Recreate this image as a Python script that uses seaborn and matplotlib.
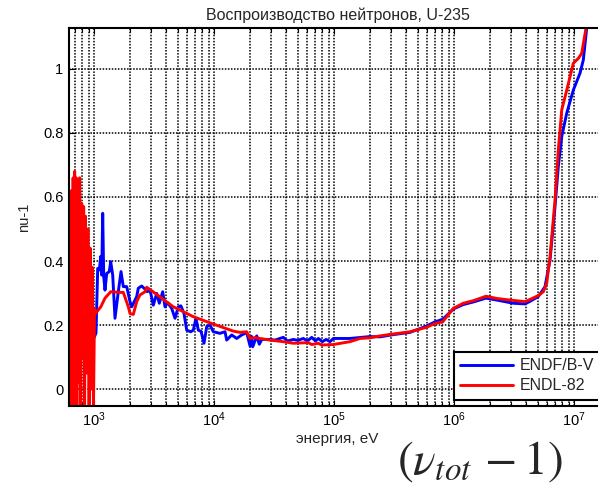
import numpy as np
import pandas as pd
import matplotlib
matplotlib.use("Agg")
import matplotlib.pyplot as plt
import matplotlib.ticker as mticker
import seaborn as sns

# ---------------- data ----------------
endf_energy = [1000, 1039, 1074, 1107, 1137, 1159, 1182, 1205, 1235, 1276, 1341, 1378,
               1432, 1496, 1594, 1679, 1754, 1873, 1995, 2062, 2196, 2269, 2340, 2497,
               2713, 2782, 2929, 3120, 3331, 3502, 3736, 3905, 4100, 4441, 4732, 5041,
               5300, 5623, 5923, 6394, 6723, 7079, 7398, 7800, 8254, 8696, 9261, 9867,
               11220, 12350, 12760, 14050, 15460, 17010, 18730, 19950, 20500, 21020,
               22690, 23850, 25000, 29290, 32240, 37790, 41000, 45800, 50000, 55490,
               60000, 65200, 70000, 73980, 80000, 86000, 92610, 98670, 135900, 199500,
               241700, 312100, 429900, 592300, 694600, 805100, 869600, 986700, 1.195e6,
               1.448e6, 1.848e6, 2.269e6, 2.929e6, 3.12e6, 3.905e6, 4.298e6, 5.041e6,
               5.733e6, 6.31e6, 6.946e6, 7.398e6, 7.9e6, 8.696e6, 9.867e6, 1.122e7,
               1.195e7, 1.276e7, 1.35e7]
endf_nu1 = [0.16, 0.175, 0.377, 0.372, 0.414, 0.356, 0.549, 0.351, 0.309, 0.361, 0.367, 0.398,
            0.356, 0.221, 0.304, 0.367, 0.32, 0.32, 0.273, 0.257, 0.278, 0.289, 0.315, 0.322,
            0.309, 0.304, 0.31, 0.262, 0.299, 0.268, 0.304, 0.257, 0.27, 0.252, 0.221, 0.257,
            0.26, 0.236, 0.184, 0.179, 0.184, 0.221, 0.184, 0.18, 0.143, 0.195, 0.2, 0.179,
            0.174, 0.179, 0.153, 0.169, 0.158, 0.169, 0.176, 0.135, 0.165, 0.132,
            0.166, 0.14, 0.155, 0.155, 0.153, 0.1615, 0.15, 0.155, 0.152, 0.158,
            0.15, 0.1615, 0.15, 0.158, 0.148, 0.155, 0.148, 0.158, 0.158, 0.164,
            0.163, 0.170, 0.177, 0.197, 0.21, 0.218, 0.23, 0.25, 0.264,
            0.272, 0.284, 0.278, 0.27, 0.268, 0.266, 0.274, 0.289,
            0.32, 0.403, 0.57, 0.695, 0.789, 0.862, 0.934, 0.987,
            1.028, 1.128, 1.22]

endl_energy = [630, 640, 650, 660, 670, 680, 690, 700, 710, 720, 730, 745, 760, 775, 790,
               805, 820, 835, 850, 870, 890, 910, 930, 950, 970, 990, 1010, 1030, 1140,
               1235, 1378, 1650, 1754, 1932, 1995, 2126, 2269, 2417, 2661, 2750, 3026,
               4580, 6723, 9867, 14480, 16470, 18730, 19950, 21970, 24170, 29290, 37790,
               45800, 61070, 65200, 73980, 79000, 98670, 135900, 164700, 199500, 241700,
               312100, 429900, 592300, 694600, 805100, 869600, 986700, 1.195e6, 1.448e6,
               1.848e6, 2.269e6, 2.929e6, 3.905e6, 4.298e6, 5.041e6, 5.549e6, 5.923e6,
               6.107e6, 6.31e6, 6.946e6, 7.398e6, 7.9e6, 8.696e6, 9.867e6, 1.086e7,
               1.159e7, 1.259e7, 1.35e7]
endl_nu1 = [0.45, -0.06, 0.62, 0.10, 0.66, -0.06, 0.68, 0.05, 0.66, -0.06, 0.60, 0.02, 0.66,
            -0.06, 0.58, 0.10, 0.57, -0.06, 0.54, 0.05, 0.50, -0.06, 0.44, 0.0, 0.38, -0.06,
            0.25, 0.236, 0.257, 0.284, 0.304, 0.302, 0.302, 0.257, 0.236, 0.233, 0.273,
            0.294, 0.304, 0.318, 0.307, 0.257, 0.226, 0.203, 0.181, 0.177, 0.179, 0.158,
            0.161, 0.158, 0.153, 0.148, 0.143, 0.145, 0.139, 0.143, 0.1375, 0.139, 0.148,
            0.158, 0.16, 0.166, 0.172, 0.179, 0.193, 0.205, 0.210, 0.226, 0.252, 0.268,
            0.276, 0.29, 0.283, 0.278, 0.273, 0.28, 0.292, 0.304, 0.33, 0.372, 0.413,
            0.591, 0.747, 0.872, 0.934, 1.018, 1.033, 1.049, 1.128, 1.25]

series_names = ["ENDF/B-V", "ENDL-82"]
series_colors = ["#0000ff", "#ff0000"]
y_ticks = [0, 0.2, 0.4, 0.6, 0.8, 1.0]

title_text = "Воспроизводство нейтронов, U-235"
x_label = "энергия, eV"
y_label = "nu-1"
formula_text = r"$(\nu_{tot}\,-1)$"

# ---------------- figure ----------------
sns.set_style("ticks")
plt.rcParams["font.family"] = ["Liberation Sans", "DejaVu Sans"]
plt.rcParams["font.size"] = 10.5

df = pd.concat([
    pd.DataFrame({"E": endf_energy, "v": endf_nu1, "src": series_names[0]}),
    pd.DataFrame({"E": endl_energy, "v": endl_nu1, "src": series_names[1]}),
], ignore_index=True)

W, H = 598, 492
fig = plt.figure(figsize=(W / 100, H / 100), dpi=100)
ax_l, ax_r, ax_t, ax_b = 69, 606, 28, 406
ax = fig.add_axes([ax_l / W, 1 - ax_b / H, (ax_r - ax_l) / W, (ax_b - ax_t) / H])

sns.lineplot(data=df, x="E", y="v", hue="src", hue_order=series_names,
             palette=dict(zip(series_names, series_colors)), sort=False,
             estimator=None, linewidth=2.1, ax=ax, legend=False)

ax.set_xscale("log")
ax.set_xlim(619, 1.847e7)
ax.set_ylim(-0.053, 1.128)
ax.set_yticks(y_ticks)
ax.yaxis.set_major_formatter(mticker.FormatStrFormatter("%g"))
ax.xaxis.set_major_locator(mticker.LogLocator(base=10, numticks=20))
ax.xaxis.set_minor_locator(mticker.LogLocator(base=10, subs=np.arange(2, 10), numticks=20))
ax.xaxis.set_minor_formatter(mticker.NullFormatter())

grid_kw = dict(color="black", linestyle=(0, (1, 1)), linewidth=1.1, alpha=1.0)
ax.grid(True, which="major", axis="both", **grid_kw)
ax.grid(True, which="minor", axis="x", **grid_kw)
ax.set_axisbelow(True)

ax.tick_params(which="both", direction="in", top=True, right=True, colors="black",
               labelsize=10.5)
ax.tick_params(which="major", length=4, width=0.8)
ax.tick_params(which="minor", length=3, width=0.8)
ax.tick_params(axis="x", pad=3)
ax.tick_params(axis="y", pad=4)
for s in ax.spines.values():
    s.set_color("black")
    s.set_linewidth(1.5)

ax.set_title(title_text, fontsize=11.5, pad=6)
ax.set_xlabel(x_label, fontsize=11, labelpad=2)
ax.set_ylabel(y_label, fontsize=10.5)
ax.yaxis.set_label_coords((31 - ax_l) / (ax_r - ax_l), 0.5)

lines = ax.get_lines()[:2]
leg = ax.legend(lines, series_names, loc="upper left",
                bbox_to_anchor=(454 / W, 1 - 352 / H), bbox_transform=fig.transFigure,
                borderaxespad=0, fancybox=False, edgecolor="black", framealpha=1,
                fontsize=11.5, handlelength=3.3, handletextpad=0.4, labelspacing=0.3,
                borderpad=0.4)
leg.get_frame().set_linewidth(1.5)

fig.text(397 / W, 1 - 474 / H, formula_text, fontsize=34, math_fontfamily="stix",
         ha="left", va="baseline")

fig.savefig("out.png", dpi=100)
